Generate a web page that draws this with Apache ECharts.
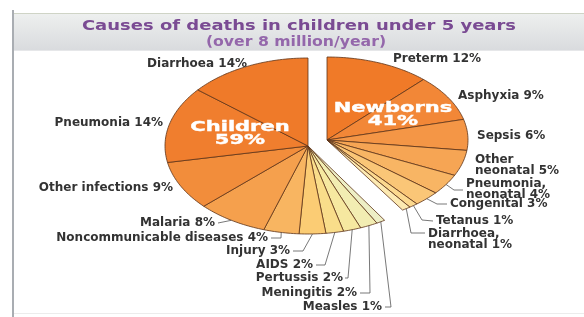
<!DOCTYPE html>
<html>
<head>
<meta charset="utf-8">
<script src="https://cdn.jsdelivr.net/npm/echarts@6.0.0/dist/echarts.min.js"></script>
<style>
  html, body { margin: 0; padding: 0; background: #fff; }
  #chart { width: 584px; height: 317px; }
</style>
</head>
<body>
<div id="chart"></div>
<script>
// data (percent of deaths)
const titleText = 'Causes of deaths in children under 5 years';
const subtitleText = '(over 8 million/year)';
const groupNames = ['Newborns', 'Children'];
const groupValues = [41, 59];
const newbornNames = ['Preterm', 'Asphyxia', 'Sepsis', 'Other\nneonatal', 'Pneumonia,\nneonatal', 'Congenital', 'Tetanus', 'Diarrhoea,\nneonatal'];
const newbornValues = [12, 9, 6, 5, 4, 3, 1, 1];
// children causes, clockwise from the end of the newborn part
const childNames = ['Measles', 'Meningitis', 'Pertussis', 'AIDS', 'Injury', 'Noncommunicable diseases', 'Malaria', 'Other infections', 'Pneumonia', 'Diarrhoea'];
const childValues = [1, 2, 2, 2, 3, 4, 8, 9, 14, 14];

// styles / layout
const newbornColors = ['#f07a28', '#f28737', '#f49646', '#f6a554', '#f8b564', '#fac677', '#fcd98f', '#fdeab2'];
const childColors = ['#eeefc6', '#f2edb2', '#f6e8a0', '#f9dd8a', '#fbcc74', '#f8b561', '#f5a04d', '#f28d3b', '#f07e2e', '#ef7a29'];
const centers = [[327, 140], [308, 146]];
const radii = [[141, 83], [143, 88]];
const bigLabelOffset = [[66, -32], [-68, -19]];
// label anchor: [x, y of first line, align, extra line points after the edge point]
const newbornLabelPos = [
  [393, 59, 'left', null],
  [458, 96, 'left', null],
  [477, 136, 'left', null],
  [475, 160, 'left', null],
  [466, 184, 'left', [[454, 190], [463, 190]]],
  [450, 204, 'left', [[437, 204], [447, 204]]],
  [436, 221, 'left', [[422, 220], [433, 221]]],
  [428, 234, 'left', [[411, 233], [425, 233]]]
];
const childLabelPos = [
  [382, 307, 'right', [[391, 307], [385, 307]]],
  [357, 293, 'right', [[370, 293], [360, 293]]],
  [343, 278, 'right', [[348, 278], [345, 278]]],
  [313, 265, 'right', [[325, 265], [316, 265]]],
  [290, 251, 'right', [[303, 251], [293, 251]]],
  [268, 238, 'right', [[281, 238], [271, 238]]],
  [215, 223, 'right', [[218, 223]]],
  [173, 188, 'right', null],
  [163, 123, 'right', null],
  [247, 64, 'right', null]
];
const labelFont = 'bold 12px "DejaVu Sans"';

// build slice table: [group, start percent, value, index]
const slices = [];
let acc = 0;
[newbornValues, childValues].forEach(function (vals, g) {
  vals.forEach(function (v, i) {
    slices.push([g, acc, v, i]);
    acc += v;
  });
});

function ellipsePoint(g, t) {
  const c = centers[g], r = radii[g];
  return [c[0] + r[0] * Math.sin(t), c[1] - r[1] * Math.cos(t)];
}

function renderItem(params, api) {
  const g = api.value(0), start = api.value(1), v = api.value(2), i = api.value(3);
  const total = groupValues[0] + groupValues[1];
  const a0 = start / total * Math.PI * 2;
  const a1 = (start + v) / total * Math.PI * 2;
  const pts = [centers[g].slice()];
  const n = Math.max(3, Math.ceil((a1 - a0) / 0.02));
  for (let k = 0; k <= n; k++) pts.push(ellipsePoint(g, a0 + (a1 - a0) * k / n));

  const names = g === 0 ? newbornNames : childNames;
  const colors = g === 0 ? newbornColors : childColors;
  const pos = (g === 0 ? newbornLabelPos : childLabelPos)[i];
  const children = [{
    type: 'polygon',
    shape: { points: pts },
    style: { fill: colors[i], stroke: '#5e3418', lineWidth: 0.8 }
  }];
  if (pos[3]) {
    const linePts = [ellipsePoint(g, (a0 + a1) / 2)].concat(pos[3]);
    children.push({
      type: 'polyline',
      shape: { points: linePts },
      style: { stroke: '#555', lineWidth: 0.8, fill: null }
    });
  }
  children.push({
    type: 'text',
    x: pos[0],
    y: pos[1] - 5.5,
    style: {
      text: names[i] + ' ' + v + '%',
      fill: '#333',
      font: labelFont,
      align: pos[2],
      verticalAlign: 'top',
      lineHeight: 11
    }
  });
  return { type: 'group', children: children };
}

const chart = echarts.init(document.getElementById('chart'));

const graphics = [
  { type: 'rect', shape: { x: 14, y: 13, width: 570, height: 37 },
    style: { fill: new echarts.graphic.LinearGradient(0, 0, 0, 1, [
      { offset: 0, color: '#eef0ef' }, { offset: 1, color: '#d9dbde' }]) } },
  { type: 'line', shape: { x1: 14, y1: 13.5, x2: 584, y2: 13.5 }, style: { stroke: '#cfd4c6', lineWidth: 1 } },
  { type: 'line', shape: { x1: 14, y1: 50.5, x2: 584, y2: 50.5 }, style: { stroke: '#e6e7e9', lineWidth: 1 } },
  { type: 'line', shape: { x1: 13, y1: 10, x2: 13, y2: 317 }, style: { stroke: '#a9adb2', lineWidth: 2 } },
  { type: 'line', shape: { x1: 14, y1: 313.5, x2: 584, y2: 313.5 }, style: { stroke: '#ececec', lineWidth: 1 } },
  { type: 'text', x: 299, y: 26, scaleX: 1.24,
    style: { text: titleText, font: 'bold 14.5px "DejaVu Sans"', fill: '#7a4b93',
      align: 'center', verticalAlign: 'middle', textAlign: 'center', textVerticalAlign: 'middle' } },
  { type: 'text', x: 296, y: 42, scaleX: 1.12,
    style: { text: subtitleText, font: 'bold 14px "DejaVu Sans"', fill: '#9467ab',
      align: 'center', verticalAlign: 'middle', textAlign: 'center', textVerticalAlign: 'middle' } }
];
groupNames.forEach(function (name, g) {
  graphics.push({
    type: 'text',
    x: centers[g][0] + bigLabelOffset[g][0],
    y: centers[g][1] + bigLabelOffset[g][1] - 6.5,
    scaleX: 1.5,
    z: 10,
    style: {
      text: name + '\n' + groupValues[g] + '%',
      font: 'bold 14px "DejaVu Sans"',
      fill: '#fff',
      stroke: '#fff',
      lineWidth: 0.4,
      lineHeight: 13,
      align: 'center', verticalAlign: 'top', textAlign: 'center', textVerticalAlign: 'top'
    }
  });
});

chart.setOption({
  animation: false,
  backgroundColor: '#fff',
  graphic: graphics,
  series: [{
    type: 'custom',
    coordinateSystem: 'none',
    silent: true,
    dimensions: ['group', 'start', 'value', 'index'],
    renderItem: renderItem,
    data: slices
  }]
});
</script>
</body>
</html>
